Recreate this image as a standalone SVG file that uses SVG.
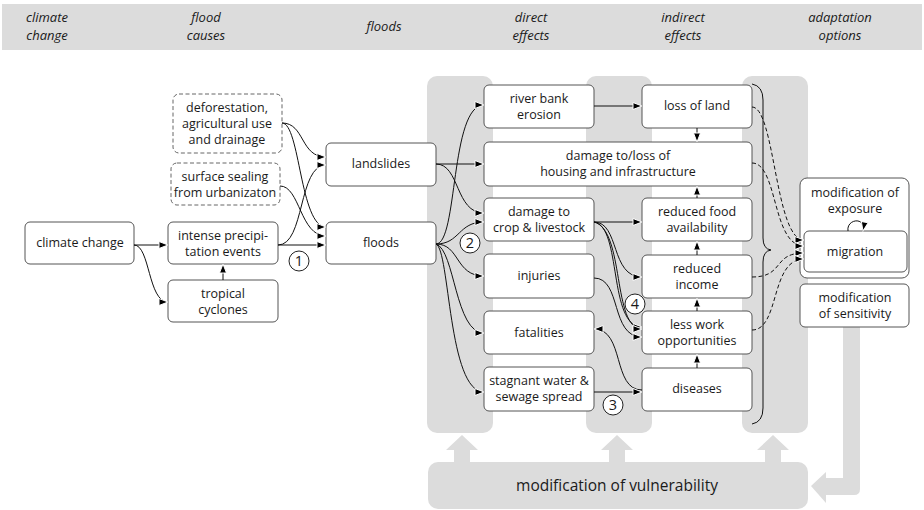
<svg xmlns="http://www.w3.org/2000/svg" width="924" height="510" viewBox="0 0 924 510">
<style>
.bg{fill:#dcdcdc}
.nb{fill:#fff;stroke:#555;stroke-width:1}
.db{fill:#fff;stroke:#666;stroke-width:1;stroke-dasharray:4 2.5}
.t{font-family:"Open Sans","Noto Sans",sans-serif;font-size:12.5px;fill:#1a1a1a;text-anchor:middle}
.h{font-family:"Open Sans","Noto Sans",sans-serif;font-size:13px;font-style:italic;fill:#1a1a1a;text-anchor:middle}
.big{font-family:"Open Sans","Noto Sans",sans-serif;font-size:15.5px;fill:#1a1a1a;text-anchor:middle}
.c{fill:none;stroke:#111;stroke-width:1}
.a{marker-end:url(#ah)}
.d{stroke-dasharray:4 2.5}
.num{fill:#fff;stroke:#222;stroke-width:1}
.nt{font-family:"Open Sans","Noto Sans",sans-serif;font-size:14.5px;fill:#1a1a1a;text-anchor:middle}
</style>
<defs>
<marker id="ah" markerUnits="userSpaceOnUse" markerWidth="14" markerHeight="12" refX="10" refY="6" orient="auto" overflow="visible">
<path d="M1,2.5 L10,6 L1,9.5 z" fill="#000" stroke="#fff" stroke-width="1"/>
</marker>
</defs>

<g id="header">
<rect class="bg" x="2" y="4" width="920" height="46"/>
<text class="h" x="47" y="22">climate</text><text class="h" x="47" y="40">change</text>
<text class="h" x="206" y="22">flood</text><text class="h" x="206" y="40">causes</text>
<text class="h" x="384" y="31">floods</text>
<text class="h" x="531" y="22">direct</text><text class="h" x="531" y="40">effects</text>
<text class="h" x="683" y="22">indirect</text><text class="h" x="683" y="40">effects</text>
<text class="h" x="840" y="22">adaptation</text><text class="h" x="840" y="40">options</text>
</g>

<g id="columns">
<rect class="bg" x="427" y="76" width="66" height="357" rx="10"/>
<rect class="bg" x="586" y="76" width="66" height="357" rx="10"/>
<rect class="bg" x="742" y="76" width="66" height="357" rx="10"/>
</g>

<g id="vulnerability">
<rect class="bg" x="428" y="462" width="380" height="47" rx="10"/>
<text class="big" x="617" y="491">modification of vulnerability</text>
<path class="bg" d="M454,462 V450 H446 L462,435 L478,450 H470 V462 z"/>
<path class="bg" d="M609,462 V450 H601 L617,435 L633,450 H625 V462 z"/>
<path class="bg" d="M765,462 V450 H757 L773,435 L789,450 H781 V462 z"/>
<path class="bg" d="M843,327 H860 V489 Q860,495 854,495 H826 V503 L811,486 L826,472 V478 H843 z"/>
</g>

<g id="climate-change"><rect class="nb" x="25" y="222" width="109" height="42" rx="5"/><text class="t" x="80" y="247">climate change</text></g>
<g id="intense-precipitation"><rect class="nb" x="168" y="222" width="110" height="42" rx="5"/><text class="t" x="223" y="240">intense precipi-</text><text class="t" x="223" y="256">tation events</text></g>
<g id="tropical-cyclones"><rect class="nb" x="168" y="280" width="110" height="42" rx="5"/><text class="t" x="223" y="298">tropical</text><text class="t" x="223" y="314">cyclones</text></g>
<g id="deforestation"><rect class="db" x="173" y="94" width="109" height="59" rx="6"/><text class="t" x="227" y="112">deforestation,</text><text class="t" x="227" y="128">agricultural use</text><text class="t" x="227" y="144">and drainage</text></g>
<g id="surface-sealing"><rect class="db" x="171" y="163" width="109" height="42" rx="6"/><text class="t" x="225" y="181">surface sealing</text><text class="t" x="225" y="197">from urbanizaton</text></g>
<g id="landslides"><rect class="nb" x="326" y="143" width="110" height="43" rx="5"/><text class="t" x="381" y="168">landslides</text></g>
<g id="floods"><rect class="nb" x="326" y="222" width="110" height="42" rx="5"/><text class="t" x="381" y="247">floods</text></g>
<g id="river-bank-erosion"><rect class="nb" x="484" y="85" width="110" height="43" rx="5"/><text class="t" x="539" y="103">river bank</text><text class="t" x="539" y="119">erosion</text></g>
<g id="damage-housing"><rect class="nb" x="484" y="142" width="268" height="44" rx="5"/><text class="t" x="618" y="160">damage to/loss of</text><text class="t" x="618" y="176">housing and infrastructure</text></g>
<g id="damage-crop"><rect class="nb" x="484" y="198" width="110" height="43" rx="5"/><text class="t" x="539" y="216">damage to</text><text class="t" x="539" y="232">crop &amp; livestock</text></g>
<g id="injuries"><rect class="nb" x="484" y="254" width="110" height="44" rx="5"/><text class="t" x="539" y="280">injuries</text></g>
<g id="fatalities"><rect class="nb" x="484" y="311" width="110" height="43" rx="5"/><text class="t" x="539" y="337">fatalities</text></g>
<g id="stagnant-water"><rect class="nb" x="484" y="367" width="110" height="44" rx="5"/><text class="t" x="539" y="385">stagnant water &amp;</text><text class="t" x="539" y="401">sewage spread</text></g>
<g id="loss-of-land"><rect class="nb" x="642" y="85" width="110" height="43" rx="5"/><text class="t" x="697" y="110">loss of land</text></g>
<g id="reduced-food"><rect class="nb" x="642" y="198" width="110" height="43" rx="5"/><text class="t" x="697" y="216">reduced food</text><text class="t" x="697" y="232">availability</text></g>
<g id="reduced-income"><rect class="nb" x="642" y="255" width="110" height="43" rx="5"/><text class="t" x="697" y="273">reduced</text><text class="t" x="697" y="289">income</text></g>
<g id="less-work"><rect class="nb" x="642" y="311" width="110" height="43" rx="5"/><text class="t" x="697" y="329">less work</text><text class="t" x="697" y="345">opportunities</text></g>
<g id="diseases"><rect class="nb" x="642" y="368" width="110" height="43" rx="5"/><text class="t" x="697" y="393">diseases</text></g>
<g id="modification-exposure"><rect class="nb" x="800" y="178" width="109" height="100" rx="7"/><text class="t" x="855" y="197">modification of</text><text class="t" x="855" y="213">exposure</text></g>
<g id="migration"><rect class="nb" x="804" y="231" width="103" height="41" rx="5"/><text class="t" x="855" y="256">migration</text></g>
<g id="modification-sensitivity"><rect class="nb" x="800" y="284" width="109" height="43" rx="5"/><text class="t" x="855" y="302">modification</text><text class="t" x="855" y="318">of sensitivity</text></g>

<g id="connectors">
<path class="c a" d="M134,245 H168"/>
<path class="c a" d="M134,245 C150,245 148,302 168,302"/>
<path class="c a" d="M223,280 V264"/>
<path class="c a" d="M282,123 C305,123 300,157 326,157"/>
<path class="c a" d="M282,123 C300,123 300,227 326,227"/>
<path class="c a" d="M278,245 C305,245 298,165 326,165"/>
<path class="c a" d="M280,186 C300,186 300,236 326,236"/>
<path class="c a" d="M278,245 H326"/>
<path class="c a" d="M436,164 H484"/>
<path class="c a" d="M436,164 C460,164 455,213 484,213"/>
<path class="c a" d="M436,244 C458,244 450,105 484,105"/>
<path class="c a" d="M436,244 C460,244 458,222 484,222"/>
<path class="c a" d="M436,244 C460,244 455,276 484,276"/>
<path class="c a" d="M436,244 C455,250 455,333 484,333"/>
<path class="c a" d="M436,244 C450,250 448,392 484,392"/>
<path class="c a" d="M594,106 H642"/>
<path class="c a" d="M697,128 V142"/>
<path class="c a" d="M594,222 H642"/>
<path class="c a" d="M594,222 C620,222 610,277 642,277"/>
<path class="c a" d="M594,222 C622,226 608,327 642,327"/>
<path class="c a" d="M594,222 C625,230 612,329 642,329"/>
<path class="c a" d="M594,278 C622,278 610,337 642,337"/>
<path class="c a" d="M642,390 C612,390 625,329 594,329"/>
<path class="c a" d="M594,392 H642"/>
<path class="c a" d="M697,198 V186"/>
<path class="c a" d="M697,255 V241"/>
<path class="c a" d="M697,311 V298"/>
<path class="c a" d="M697,368 V354"/>
<path class="c a d" d="M752,107 C775,107 775,240 804,240"/>
<path class="c a d" d="M752,163 C778,163 772,246 804,246"/>
<path class="c a d" d="M752,277 C785,277 772,253 804,253"/>
<path class="c a d" d="M752,330 C780,330 770,259 804,259"/>
<path class="c" d="M752,84 Q763,86 763,100 L763,238 Q763,249 771,250 Q763,251 763,262 L763,408 Q763,422 752,424"/>
<path class="c a" d="M848,231 C846,219 866,216 863,231"/>
</g>

<g id="markers-numbers">
<circle class="num" cx="299" cy="261" r="10"/><text class="nt" x="299" y="266">1</text>
<circle class="num" cx="470" cy="243" r="10"/><text class="nt" x="470" y="248">2</text>
<circle class="num" cx="613" cy="405" r="10"/><text class="nt" x="613" y="410">3</text>
<circle class="num" cx="635" cy="304" r="10"/><text class="nt" x="635" y="309">4</text>
</g>
</svg>
